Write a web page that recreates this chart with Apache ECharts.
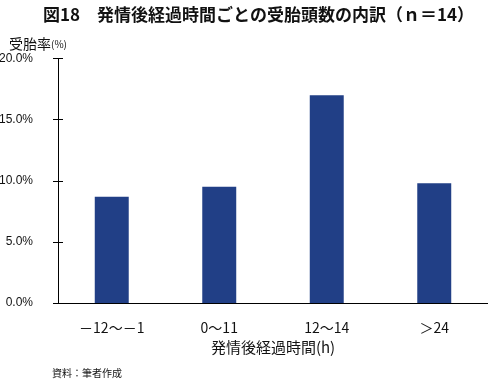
<!DOCTYPE html>
<html>
<head>
<meta charset="utf-8">
<script src="https://cdn.jsdelivr.net/npm/echarts@6/dist/echarts.min.js"></script>
<style>
html,body{margin:0;padding:0;background:#fff;}
#c{width:488px;height:379px;}
</style>
</head>
<body>
<div id="c"></div>
<script>
const categories = ['－12～－1', '0～11', '12～14', '＞24'];
const values = [8.7, 9.5, 17.0, 9.8];
const yTicks = [0, 5, 10, 15, 20];

const titleText = '図18　発情後経過時間ごとの受胎頭数の内訳（ｎ＝14）';
const yName = '受胎率';
const xName = '発情後経過時間(h)';
const sourceText = '資料：筆者作成';

const JP = '"Noto Sans CJK JP", sans-serif';
const LAT = '"Liberation Sans", Arial, "Noto Sans CJK JP", sans-serif';

const chart = echarts.init(document.getElementById('c'), null, {renderer: 'canvas'});
const yMin = yTicks[0], yMax = yTicks[yTicks.length - 1], yInt = yTicks[1] - yTicks[0];
chart.setOption({
  animation: false,
  backgroundColor: '#fff',
  title: [
    {text: titleText, left: 38, top: 1,
     textStyle: {fontFamily: JP, fontSize: 17, fontWeight: 'bold', color: '#111'}},
    {text: '{a|' + yName + '}{b|(%)}', left: 4, top: 32,
     textStyle: {rich: {
       a: {fontFamily: JP, fontSize: 14, fontWeight: 'normal', color: '#111'},
       b: {fontFamily: JP, fontSize: 10, fontWeight: 'normal', color: '#111'}
     }}},
    {text: sourceText, left: 47, top: 363,
     textStyle: {fontFamily: JP, fontSize: 10, fontWeight: 'normal', color: '#111'}}
  ],
  grid: {left: 58, right: 0, top: 58.5, bottom: 76, containLabel: false, outerBoundsMode: 'none'},
  xAxis: {
    type: 'category',
    data: categories,
    axisLine: {show: true, lineStyle: {color: '#000', width: 1}},
    axisTick: {show: false},
    axisLabel: {margin: 18, fontFamily: JP, fontSize: 14, color: '#111'},
    name: xName, nameLocation: 'middle', nameGap: 33,
    nameTextStyle: {fontFamily: JP, fontSize: 15, color: '#111'}
  },
  yAxis: [
    {
      type: 'value', min: yMin, max: yMax, interval: yInt,
      axisLine: {show: true, lineStyle: {color: '#000', width: 1}},
      axisTick: {show: true, inside: false, length: 5, lineStyle: {color: '#000'}},
      splitLine: {show: false},
      axisLabel: {margin: 25, fontFamily: LAT, fontSize: 12, color: '#111',
        formatter: v => v.toFixed(1) + '%'}
    },
    {
      type: 'value', min: yMin, max: yMax, interval: yInt, position: 'left',
      axisLine: {show: false},
      axisTick: {show: true, inside: true, length: 5, lineStyle: {color: '#000'}},
      splitLine: {show: false},
      axisLabel: {show: false}
    }
  ],
  series: [{
    type: 'bar',
    data: values,
    yAxisIndex: 0,
    barWidth: '31.6%',
    itemStyle: {color: '#213F86'}
  }]
});
</script>
</body>
</html>
